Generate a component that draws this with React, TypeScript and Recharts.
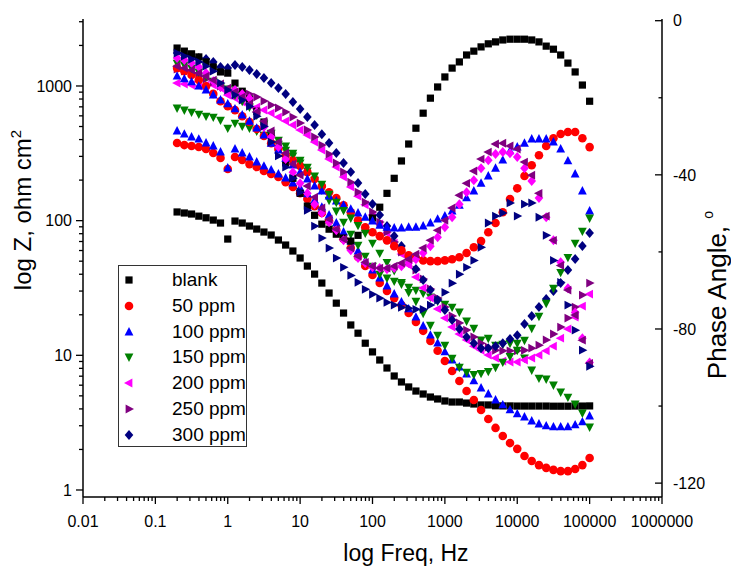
import { ScatterChart, Scatter, XAxis, YAxis } from "recharts";

// measured frequencies, Hz (10 points per decade, high to low)
const freqs = [
  100000, 79433, 63096, 50119, 39811, 31623, 25119, 19953, 15849, 12589,
  10000, 7943, 6310, 5012, 3981, 3162, 2512, 1995, 1585, 1259,
  1000, 794.3, 631.0, 501.2, 398.1, 316.2, 251.2, 199.5, 158.5, 125.9,
  100, 79.43, 63.10, 50.12, 39.81, 31.62, 25.12, 19.95, 15.85, 12.59,
  10, 7.943, 6.310, 5.012, 3.981, 3.162, 2.512, 1.995, 1.585, 1.259,
  1, 0.7943, 0.6310, 0.5012, 0.3981, 0.3162, 0.2512, 0.1995,
];

// |Z|, ohm cm2
const blankZ = [4.21, 4.2, 4.2, 4.19, 4.19, 4.19, 4.2, 4.2, 4.2, 4.2, 4.2, 4.21, 4.21, 4.22, 4.28, 4.28, 4.35, 4.42, 4.5, 4.5, 4.58, 4.74, 4.9, 5.16, 5.43, 5.82, 6.34, 7.02, 8.05, 9.23, 10.6, 12.3, 14.6, 16.8, 20.6, 24.4, 29.0, 34.4, 40.1, 46.0, 52.8, 59.5, 65.9, 71.8, 78.2, 82.3, 86.6, 91.2, 96.0, 99.3, 73.0, 96.0, 101, 105, 108, 112, 114, 116];
const ppm50Z = [1.73, 1.53, 1.43, 1.38, 1.38, 1.41, 1.46, 1.53, 1.64, 1.79, 2.02, 2.23, 2.52, 2.89, 3.37, 3.93, 4.66, 5.43, 6.45, 7.65, 9.07, 10.8, 12.8, 15.2, 17.7, 20.6, 23.6, 26.6, 30.0, 34.4, 39.5, 46.0, 53.7, 62.6, 73.0, 85.2, 99.3, 114, 128, 145, 160, 178, 193, 211, 222, 234, 250, 263, 282, 297, 242, 292, 318, 340, 352, 358, 364, 377];
const ppm100Z = [3.54, 3.2, 3.04, 2.94, 2.94, 2.94, 2.99, 3.09, 3.25, 3.48, 3.67, 3.93, 4.28, 4.66, 5.16, 5.72, 6.45, 7.26, 8.19, 9.23, 10.6, 12.3, 14.1, 16.5, 19.2, 22.1, 24.9, 28.5, 32.7, 37.5, 43.0, 50.1, 59.5, 70.6, 82.3, 96.0, 110, 126, 142, 158, 175, 190, 207, 222, 238, 254, 272, 297, 318, 340, 246, 323, 358, 377, 403, 418, 439, 463];
const ppm150Z = [2.94, 3.73, 4.35, 4.9, 5.34, 6.02, 6.67, 6.78, 7.78, 9.55, 12.3, 12.3, 12.1, 11.9, 13.4, 13.0, 15.9, 18.0, 21.0, 22.8, 24.0, 25.3, 27.1, 29.0, 30.5, 32.1, 33.8, 35.6, 37.5, 40.1, 46.0, 54.6, 65.9, 79.5, 97.6, 118, 142, 169, 200, 234, 268, 302, 334, 370, 403, 432, 463, 487, 504, 530, 487, 558, 588, 598, 619, 640, 663, 686];
const ppm200Z = [28.5, 23.2, 19.2, 15.7, 13.4, 11.7, 10.8, 10.05, 9.55, 9.23, 8.92, 8.92, 9.07, 9.55, 10.05, 10.9, 11.7, 13.0, 14.4, 16.2, 18.9, 22.1, 26.6, 31.6, 38.1, 46.8, 56.5, 68.2, 80.9, 94.4, 110, 131, 152, 178, 211, 250, 287, 334, 383, 432, 471, 513, 549, 588, 629, 663, 697, 722, 760, 813, 856, 965, 1016, 1016, 998, 1016, 1033, 1051];
const ppm250Z = [34.4, 28.0, 22.8, 18.9, 16.2, 14.4, 13.0, 11.9, 11.3, 10.9, 10.8, 10.8, 10.8, 10.9, 11.5, 12.3, 13.7, 15.4, 17.4, 19.6, 22.8, 26.6, 31.1, 36.9, 43.0, 50.1, 58.5, 69.4, 82.3, 97.6, 116, 137, 163, 193, 230, 268, 312, 364, 418, 471, 530, 588, 640, 686, 722, 773, 827, 871, 901, 917, 932, 998, 1069, 1125, 1185, 1247, 1290, 1335];
const ppm300Z = [80.9, 64.8, 51.9, 43.0, 34.4, 30.0, 26.2, 22.8, 19.6, 17.1, 14.1, 13.2, 12.3, 11.7, 11.3, 11.3, 12.3, 13.7, 15.7, 18.3, 21.7, 25.7, 30.5, 36.2, 43.7, 53.7, 64.8, 76.9, 91.2, 110, 133, 158, 190, 230, 268, 318, 377, 439, 513, 588, 674, 760, 871, 965, 1051, 1145, 1226, 1313, 1381, 1430, 1358, 1381, 1505, 1584, 1612, 1640, 1696, 1755];

// phase angle, degrees
const blankPh = [-20.9, -16.7, -13.3, -11.0, -8.9, -7.4, -6.6, -5.5, -5.0, -4.8, -4.8, -4.8, -5.0, -5.5, -6.0, -6.8, -7.9, -8.9, -10.7, -12.3, -14.6, -17.2, -20.1, -24.0, -27.9, -32.0, -36.4, -40.9, -44.8, -48.4, -51.2, -54.1, -55.7, -57.2, -56.4, -55.4, -54.1, -52.8, -50.5, -48.1, -44.8, -40.9, -36.9, -33.1, -29.4, -26.3, -23.5, -20.3, -18.3, -16.2, -13.6, -13.3, -12.0, -10.7, -9.4, -8.6, -7.9, -7.1];
const ppm50Ph = [-32.8, -30.5, -28.9, -28.9, -29.4, -30.5, -32.5, -34.9, -37.5, -40.3, -43.5, -46.3, -49.7, -52.5, -54.9, -57.2, -58.8, -60.3, -61.4, -61.9, -62.2, -62.4, -62.4, -62.2, -61.6, -60.9, -59.6, -58.5, -57.0, -55.9, -54.9, -53.6, -51.8, -49.7, -47.9, -46.0, -44.5, -42.9, -41.1, -39.3, -37.7, -36.2, -34.9, -33.3, -31.8, -29.9, -28.1, -26.3, -24.8, -23.2, -22.2, -20.9, -19.0, -17.0, -15.4, -14.1, -13.1, -12.3];
const ppm100Ph = [-49.4, -44.2, -39.8, -36.4, -33.3, -31.5, -30.7, -30.7, -30.7, -31.8, -32.8, -33.8, -36.2, -38.3, -40.3, -42.2, -44.2, -46.0, -47.9, -49.4, -50.7, -51.5, -52.5, -53.3, -53.6, -53.6, -53.8, -53.8, -53.6, -53.1, -52.0, -51.0, -49.9, -48.9, -47.9, -46.8, -45.5, -44.2, -42.9, -41.1, -39.3, -37.5, -35.7, -33.6, -31.8, -29.7, -27.9, -26.1, -24.5, -22.9, -21.6, -20.6, -19.3, -18.0, -17.0, -15.9, -15.1, -14.4];
const ppm150Ph = [-51.2, -54.6, -57.7, -61.4, -65.3, -69.4, -73.3, -76.7, -79.8, -82.9, -85.5, -87.1, -88.6, -89.9, -91.0, -91.5, -91.8, -91.2, -89.9, -87.6, -84.2, -81.6, -79.0, -75.9, -72.8, -70.5, -67.9, -64.8, -62.7, -60.3, -57.7, -55.1, -53.1, -51.2, -49.2, -47.1, -45.0, -42.4, -40.3, -38.0, -36.2, -34.4, -32.5, -31.0, -29.2, -26.8, -24.5, -22.4, -20.9, -19.3, -17.7, -17.2, -15.7, -14.4, -13.3, -12.3, -11.5, -11.0];
const ppm200Ph = [-88.7, -82.4, -75.7, -69.4, -62.7, -57.0, -51.0, -46.0, -41.6, -38.3, -35.4, -34.4, -34.1, -34.6, -36.2, -38.3, -41.4, -44.5, -47.6, -51.0, -53.6, -56.2, -58.5, -60.3, -61.9, -62.9, -63.7, -64.2, -64.5, -64.2, -64.0, -62.9, -61.6, -59.6, -57.0, -54.4, -52.3, -49.9, -47.6, -44.8, -42.2, -39.3, -35.9, -32.8, -30.2, -27.6, -23.7, -20.1, -19.0, -18.0, -18.5, -17.2, -15.7, -13.6, -12.0, -11.0, -10.2, -9.7];
const ppm250Ph = [-88.9, -82.9, -76.4, -69.9, -63.5, -57.0, -50.7, -44.8, -40.1, -36.7, -33.3, -32.5, -31.8, -32.0, -34.1, -35.9, -39.0, -42.2, -45.3, -48.6, -51.8, -54.4, -57.0, -59.0, -60.6, -61.9, -62.9, -63.7, -64.2, -64.2, -63.7, -62.7, -61.1, -59.0, -56.7, -54.1, -51.5, -48.6, -45.8, -42.9, -40.1, -37.2, -34.4, -31.5, -28.6, -26.1, -23.7, -21.6, -19.8, -18.5, -17.5, -16.4, -15.4, -14.4, -13.6, -12.8, -12.3, -11.8];
const ppm300Ph = [-89.7, -85.5, -80.3, -73.8, -67.9, -62.2, -55.7, -51.0, -47.3, -47.6, -50.7, -47.3, -49.9, -50.7, -52.5, -58.8, -62.2, -64.0, -65.8, -68.1, -70.5, -72.5, -73.8, -74.9, -74.9, -74.6, -74.4, -73.8, -73.1, -72.0, -71.0, -69.7, -67.9, -66.1, -64.0, -61.6, -59.0, -56.4, -53.3, -49.2, -44.5, -40.9, -38.0, -35.1, -31.5, -27.4, -24.8, -22.2, -20.6, -19.3, -18.0, -16.2, -13.1, -11.8, -10.7, -10.0, -9.2, -8.4];

const names = ["blank", "50 ppm", "100 ppm", "150 ppm", "200 ppm", "250 ppm", "300 ppm"];
const colors = ["#000000", "#ff0000", "#0000ff", "#008000", "#ff00ff", "#800080", "#000080"];
const zMarks = ["square", "circle", "up", "down", "left", "right", "diamond"];
const phMarks = ["square", "circle", "up", "down", "diamond", "left", "right"];
const zSeries = [blankZ, ppm50Z, ppm100Z, ppm150Z, ppm200Z, ppm250Z, ppm300Z];
const phSeries = [blankPh, ppm50Ph, ppm100Ph, ppm150Ph, ppm200Ph, ppm250Ph, ppm300Ph];

const xMajor = [0.01, 0.1, 1, 10, 100, 1000, 10000, 100000, 1000000];
const zMajor = [1, 10, 100, 1000];
const phMajor = [0, -40, -80, -120];
const phMinor = [-20, -60, -100];

const FONT = "'Liberation Sans', Arial, sans-serif";

const minorsOf = (majors: number[], max: number) => {
  const out: number[] = [];
  majors.forEach((d) => {
    for (let k = 2; k <= 9; k++) if (d * k <= max) out.push(d * k);
  });
  return out;
};
const xTicks = [...xMajor, ...minorsOf(xMajor.slice(0, -1), 1000000)];
const zTicks = [...zMajor, ...minorsOf([0.1, 1, 10, 100, 1000], 3140).filter((v) => v > 0.9)];
const phTicks = [...phMajor, ...phMinor];

function Mark({ cx, cy, kind, color }: any) {
  if (cx == null || cy == null) return null;
  const a = 5;
  const b = 4.4;
  switch (kind) {
    case "square":
      return <rect x={cx - 3.6} y={cy - 3.6} width={7.2} height={7.2} fill={color} />;
    case "circle":
      return <circle cx={cx} cy={cy} r={4.3} fill={color} />;
    case "up":
      return <polygon points={`${cx},${cy - a} ${cx + b},${cy + 3.4} ${cx - b},${cy + 3.4}`} fill={color} />;
    case "down":
      return <polygon points={`${cx},${cy + a} ${cx + b},${cy - 3.4} ${cx - b},${cy - 3.4}`} fill={color} />;
    case "left":
      return <polygon points={`${cx - a},${cy} ${cx + 3.4},${cy - b} ${cx + 3.4},${cy + b}`} fill={color} />;
    case "right":
      return <polygon points={`${cx + a},${cy} ${cx - 3.4},${cy - b} ${cx - 3.4},${cy + b}`} fill={color} />;
    default:
      return <polygon points={`${cx},${cy - 5} ${cx + 4.3},${cy} ${cx},${cy + 5} ${cx - 4.3},${cy}`} fill={color} />;
  }
}

const XTick = ({ x, y, payload }: any) => {
  const major = xMajor.includes(payload.value);
  return (
    <g>
      <line x1={x} x2={x} y1={y} y2={y + (major ? 7 : 4)} stroke="#000" strokeWidth={1.3} />
      {major && (
        <text x={x} y={y + 30} textAnchor="middle" fontSize={16} fontFamily={FONT} fill="#000">
          {String(payload.value)}
        </text>
      )}
    </g>
  );
};

const ZTick = ({ x, y, payload }: any) => {
  const major = zMajor.includes(payload.value);
  return (
    <g>
      <line x1={x} x2={x - (major ? 7 : 4)} y1={y} y2={y} stroke="#000" strokeWidth={1.3} />
      {major && (
        <text x={x - 11} y={y} dy="0.36em" textAnchor="end" fontSize={16} fontFamily={FONT} fill="#000">
          {String(payload.value)}
        </text>
      )}
    </g>
  );
};

const PhTick = ({ x, y, payload }: any) => {
  const major = phMajor.includes(payload.value);
  return (
    <g>
      <line x1={x} x2={x - (major ? 7 : 3.5)} y1={y} y2={y} stroke="#000" strokeWidth={1.3} />
      {major && (
        <text x={x + 11} y={y} dy="0.36em" textAnchor="start" fontSize={16} fontFamily={FONT} fill="#000">
          {String(payload.value)}
        </text>
      )}
    </g>
  );
};

const XTitle = () => (
  <text x={406} y={561} textAnchor="middle" fontSize={23} fontFamily={FONT} fill="#000">
    log Freq, Hz
  </text>
);

const ZTitle = () => (
  <text x={31} y={210} transform="rotate(-90, 31, 210)" textAnchor="middle" fontSize={24} fontFamily={FONT} fill="#000">
    log Z, ohm cm
    <tspan dy={-10} fontSize={15}>2</tspan>
  </text>
);

const PhTitle = () => (
  <text x={726} y={295} transform="rotate(-90, 726, 295)" textAnchor="middle" fontSize={26} fontFamily={FONT} fill="#000">
    Phase Angle,{"  "}
    <tspan dy={-13} fontSize={14}>o</tspan>
  </text>
);

function LegendBox() {
  return (
    <div
      style={{
        position: "absolute",
        left: 118,
        top: 265,
        width: 129,
        height: 182,
        boxSizing: "border-box",
        border: "1px solid #333",
        background: "#fff",
        fontFamily: FONT,
        fontSize: 19,
      }}
    >
      {names.map((n, i) => (
        <div key={n} style={{ position: "absolute", left: 0, top: 1 + i * 25.8, height: 26, width: 127 }}>
          <svg width={20} height={26} style={{ position: "absolute", left: 0, top: 0 }}>
            <Mark cx={10} cy={13} kind={zMarks[i]} color={colors[i]} />
          </svg>
          <span style={{ position: "absolute", left: 53, top: 0, lineHeight: "26px", whiteSpace: "nowrap" }}>{n}</span>
        </div>
      ))}
    </div>
  );
}

export default function App() {
  return (
    <div style={{ position: "absolute", left: 0, top: 0, width: 731, height: 573, background: "#fff" }}>
      <ScatterChart width={731} height={573} margin={{ top: 19, right: 0, bottom: 0, left: 0 }}>
        <XAxis
          type="number"
          dataKey="f"
          scale="log"
          domain={[0.01, 1000000]}
          allowDataOverflow
          ticks={xTicks}
          interval={0}
          tickSize={0}
          tickMargin={0}
          tickLine={false}
          tick={<XTick />}
          axisLine={{ stroke: "#000", strokeWidth: 1.5 }}
          height={76}
          label={<XTitle />}
        />
        <YAxis
          yAxisId="z"
          type="number"
          dataKey="v"
          scale="log"
          domain={[0.887, 3143]}
          allowDataOverflow
          ticks={zTicks}
          interval={0}
          tickSize={0}
          tickMargin={0}
          tickLine={false}
          tick={<ZTick />}
          axisLine={{ stroke: "#000", strokeWidth: 1.5 }}
          width={83}
          label={<ZTitle />}
        />
        <YAxis
          yAxisId="ph"
          orientation="right"
          type="number"
          dataKey="v"
          domain={[-123.6, 0.44]}
          allowDataOverflow
          ticks={phTicks}
          interval={0}
          tickSize={0}
          tickMargin={0}
          tickLine={false}
          tick={<PhTick />}
          axisLine={{ stroke: "#000", strokeWidth: 1.5 }}
          width={69}
          label={<PhTitle />}
        />
        {zSeries.map((vals, i) => (
          <Scatter
            key={"z" + i}
            name={names[i]}
            yAxisId="z"
            data={freqs.map((f, j) => ({ f, v: vals[j] }))}
            shape={(p: any) => <Mark cx={p.cx} cy={p.cy} kind={zMarks[i]} color={colors[i]} />}
            isAnimationActive={false}
          />
        ))}
        {phSeries.map((vals, i) => (
          <Scatter
            key={"p" + i}
            name={names[i] + " phase"}
            yAxisId="ph"
            data={freqs.map((f, j) => ({ f, v: vals[j] }))}
            shape={(p: any) => <Mark cx={p.cx} cy={p.cy} kind={phMarks[i]} color={colors[i]} />}
            isAnimationActive={false}
          />
        ))}
      </ScatterChart>
      <LegendBox />
    </div>
  );
}
